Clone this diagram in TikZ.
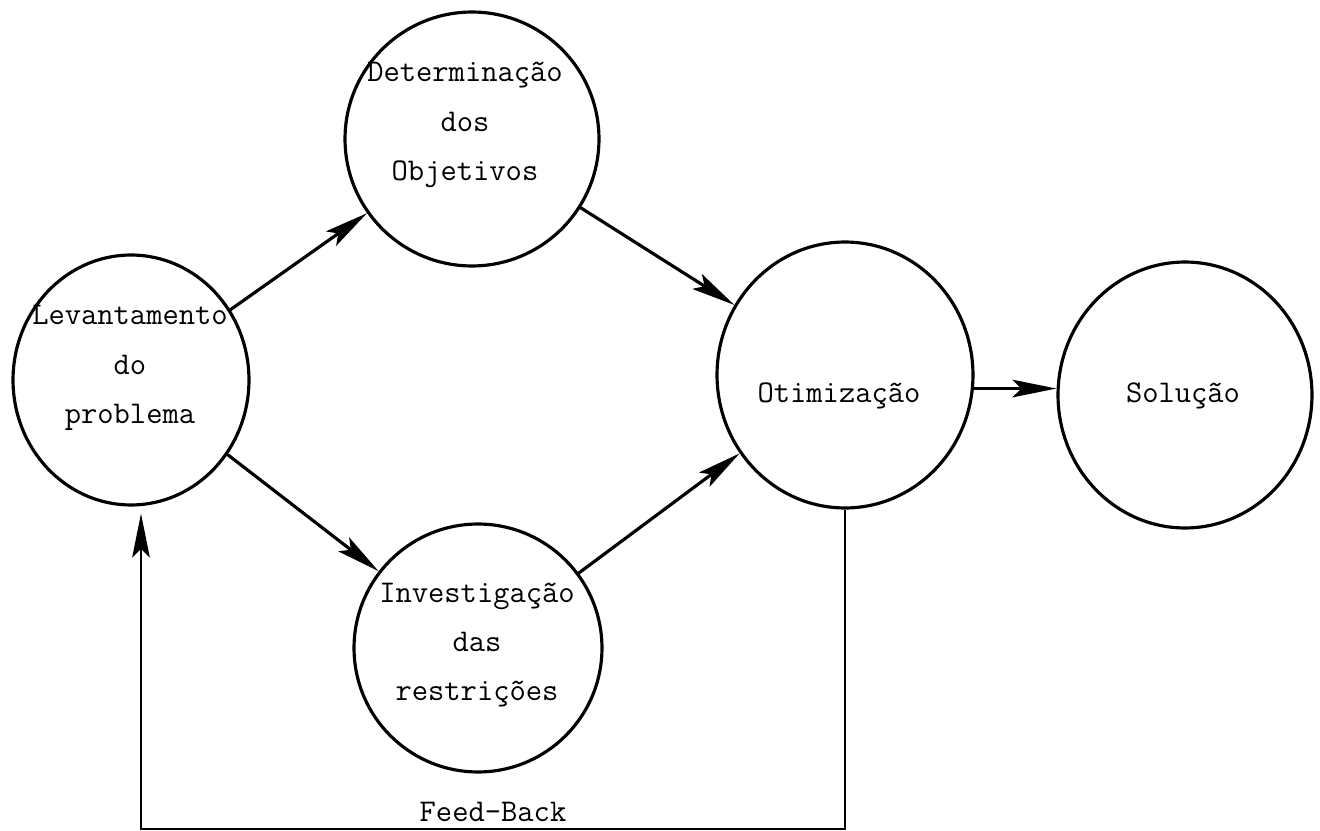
\documentclass[tikz,border=0pt]{standalone}
\usetikzlibrary{arrows.meta,shapes.geometric}

\begin{document}
\begin{tikzpicture}[x=0.02cm, y=-0.02cm, line width=1.8pt,
  >={Stealth[length=25pt,width=10pt,inset=5pt]},
  every node/.style={font=\ttfamily\fontsize{18}{28}\selectfont, align=center},
  stage/.style={draw, ellipse, inner sep=0pt}]
  \useasboundingbox (0,0) rectangle (1320,831);

  % Stages (outlines)
  \node[stage, minimum width=4.72cm, minimum height=5.0cm] (lev) at (131,380) {};
  \node[stage, minimum width=5.08cm, minimum height=5.08cm] (det) at (472,139) {};
  \node[stage, minimum width=4.96cm, minimum height=4.96cm] (inv) at (478,648) {};
  \node[stage, minimum width=5.12cm, minimum height=5.32cm] (oti) at (845,375) {};
  \node[stage, minimum width=5.08cm, minimum height=5.32cm] (sol) at (1185,395) {};

  % Stage texts
  \node (levtxt) at (130,368) {Levantamento\\do\\problema};
  \node (dettxt) at (465,125) {Determinação\\dos\\Objetivos};
  \node (invtxt) at (477,645) {Investigação\\das\\restrições};
  \node (otitxt) at (839,396) {Otimização};
  \node (soltxt) at (1183,396) {Solução};

  % Forward arrows
  \draw[->] (lev) -- (det);
  \draw[->] (lev) -- (inv);
  \draw[->] (det) -- (oti);
  \draw[->] (inv) -- (oti);
  \draw[->] (oti.-6) -- (oti.-6 -| sol.west);

  % Feed-back loop
  \coordinate (fbcorner) at (141,829);
  \draw[->, line width=1.5pt, shorten >=4pt] (oti.south) |- (fbcorner)
    node[pos=0.75, above] {Feed-Back} -- (fbcorner |- lev.south);
\end{tikzpicture}
\end{document}
